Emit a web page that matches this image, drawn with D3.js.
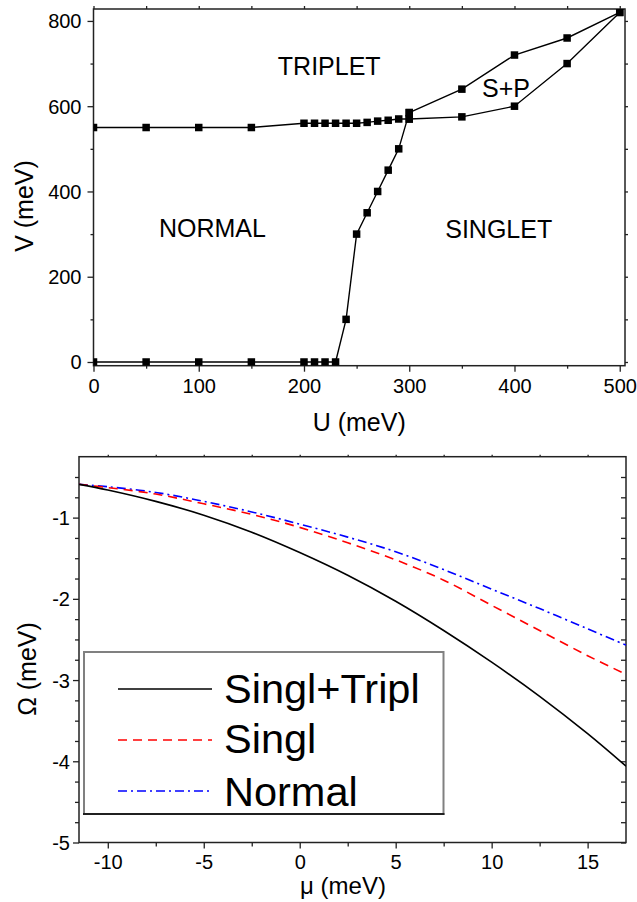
<!DOCTYPE html>
<html><head><meta charset="utf-8">
<script src="https://cdn.jsdelivr.net/npm/d3@7"></script>
<style>
body{margin:0;background:#fff}
svg{display:block}
text{font-family:"Liberation Sans",Arial,Helvetica,sans-serif;fill:#000}
</style>
</head><body>
<svg id="c" width="637" height="902"></svg>
<script>
// ---------- Top panel data (phase diagram) ----------
const normTripU = [0,50,100,150,200,210,220,230,240,250,260,270,280,290,300];
const normTripV = [550,550,550,550,560,560,560,560,560,560,562,565,567,570,570];
const normSingU = [0,50,100,150,200,210,220,230,240,250,260,270,280,290,300];
const normSingV = [0,0,0,0,0,0,0,0,100,300,350,400,450,500,585];
const spLowerU = [300,350,400,450,500];
const spLowerV = [570,575,600,700,820];
const spUpperU = [300,350,400,450,500];
const spUpperV = [585,640,720,760,820];
const topXTicks = [0,100,200,300,400,500];
const topYTicks = [0,200,400,600,800];
const phaseLabels = ["TRIPLET","NORMAL","SINGLET","S+P"];
const phaseLabelU = [224,113,385,392];
const phaseLabelV = [673,293,290,622];

// ---------- Bottom panel data (grand potential) ----------
const mu = [-11.5,-10,-7.5,-5,-2.5,0,2.5,5,7.5,10,12.5,15,17];
const omegaST = [-0.59,-0.66,-0.80,-0.97,-1.18,-1.43,-1.71,-2.03,-2.39,-2.78,-3.20,-3.66,-4.06];
const omegaS  = [-0.59,-0.63,-0.71,-0.83,-0.96,-1.12,-1.31,-1.52,-1.77,-2.08,-2.39,-2.70,-2.93];
const omegaN  = [-0.59,-0.62,-0.69,-0.80,-0.93,-1.08,-1.24,-1.42,-1.64,-1.88,-2.12,-2.37,-2.57];
const seriesNames = ["Singl+Tripl","Singl","Normal"];
const seriesColors = ["#000000","#ff0000","#0000ff"];
const seriesDash = ["none","9,6","9,4,2,4"];
const botXTicks = [-10,-5,0,5,10,15];
const botYTicks = [-5,-4,-3,-2,-1];

const svg = d3.select("#c");
const FONT_TICK = 20, FONT_TITLE = 25;
const fmt = d => String(d);   // plain hyphen-minus as in the original

// ================= TOP PANEL =================
(function(){
  const L=93.5,R=625,T=9,B=365.7;
  const x = d3.scaleLinear().domain([0,505]).range([L,R]);
  const y = d3.scaleLinear().domain([-8.7,828]).range([B,T]);
  const g = svg.append("g");
  g.append("defs").append("clipPath").attr("id","clipTop")
    .append("rect").attr("x",L).attr("y",T).attr("width",R-L).attr("height",B-T);

  const axB = d3.axisBottom(x).tickValues(topXTicks).tickSize(6).tickSizeOuter(0).tickFormat(fmt);
  const axBm = d3.axisBottom(x).tickValues([50,150,250,350,450]).tickSize(3).tickSizeOuter(0).tickFormat("");
  const axL = d3.axisLeft(y).tickValues(topYTicks).tickSize(6).tickSizeOuter(0).tickFormat(fmt);
  const axLm = d3.axisLeft(y).tickValues([100,300,500,700]).tickSize(3).tickSizeOuter(0).tickFormat("");
  const axT = d3.axisTop(x).tickValues(d3.range(0,501,50)).tickSize(3).tickSizeOuter(0).tickFormat("");
  const axR = d3.axisRight(y).tickValues(d3.range(0,801,100)).tickSize(3).tickSizeOuter(0).tickFormat("");

  const gb = g.append("g").attr("transform",`translate(0,${B})`).call(axB);
  g.append("g").attr("transform",`translate(0,${B})`).call(axBm);
  const gl = g.append("g").attr("transform",`translate(${L},0)`).call(axL);
  g.append("g").attr("transform",`translate(${L},0)`).call(axLm);
  g.append("g").attr("transform",`translate(0,${T})`).call(axT);
  g.append("g").attr("transform",`translate(${R},0)`).call(axR);
  g.selectAll(".domain").remove();
  g.selectAll(".tick line").attr("stroke","#222").attr("stroke-width",1.3);
  gb.selectAll("text").attr("font-size",FONT_TICK).attr("dy",0).attr("y",27);
  gl.selectAll("text").attr("font-size",FONT_TICK).attr("x",-12).attr("dy","0.35em");
  g.selectAll("g").attr("font-family",null);

  g.append("rect").attr("x",L).attr("y",T).attr("width",R-L).attr("height",B-T)
    .attr("fill","none").attr("stroke","#222").attr("stroke-width",1.5);

  const plot = g.append("g").attr("clip-path","url(#clipTop)");
  const line = d3.line().x(d=>x(d[0])).y(d=>y(d[1]));
  const sets = [[normTripU,normTripV],[normSingU,normSingV],[spLowerU,spLowerV],[spUpperU,spUpperV]];
  sets.forEach(([us,vs])=>{
    const pts = us.map((u,i)=>[u,vs[i]]);
    plot.append("path").datum(pts).attr("d",line).attr("fill","none").attr("stroke","#000").attr("stroke-width",1.4);
  });
  const ms = 7.5;
  sets.forEach(([us,vs])=>{
    const pts = us.map((u,i)=>[u,vs[i]]);
    plot.selectAll(null).data(pts).enter().append("rect")
      .attr("x",d=>x(d[0])-ms/2).attr("y",d=>y(d[1])-ms/2)
      .attr("width",ms).attr("height",ms).attr("fill","#000");
  });

  g.selectAll(null).data(phaseLabels).enter().append("text")
    .attr("x",(d,i)=>x(phaseLabelU[i])).attr("y",(d,i)=>y(phaseLabelV[i]))
    .attr("text-anchor","middle").attr("font-size",FONT_TITLE).text(d=>d);

  g.append("text").attr("x",(L+R)/2).attr("y",431).attr("text-anchor","middle")
    .attr("font-size",FONT_TITLE).text("U (meV)");
  g.append("text").attr("transform",`translate(33,206) rotate(-90)`).attr("text-anchor","middle")
    .attr("font-size",FONT_TITLE).text("V (meV)");
})();

// ================= BOTTOM PANEL =================
(function(){
  const L=79,R=626,T=456.7,B=842.5;
  const x = d3.scaleLinear().domain([-11.5,17]).range([L,R]);
  const y = d3.scaleLinear().domain([-5,-0.25]).range([B,T]);
  const g = svg.append("g");
  g.append("defs").append("clipPath").attr("id","clipBot")
    .append("rect").attr("x",L).attr("y",T).attr("width",R-L).attr("height",B-T);

  const minorX = [-7.5,-2.5,2.5,7.5,12.5];
  const minorY = d3.range(-4.75,-0.4,0.25).filter(v=>Math.abs(v-Math.round(v))>0.01);
  const axB = d3.axisBottom(x).tickValues(botXTicks).tickSize(6).tickSizeOuter(0).tickFormat(fmt);
  const axBm = d3.axisBottom(x).tickValues(minorX).tickSize(4).tickSizeOuter(0).tickFormat("");
  const axL = d3.axisLeft(y).tickValues(botYTicks).tickSize(6).tickSizeOuter(0).tickFormat(fmt);
  const axLm = d3.axisLeft(y).tickValues(minorY).tickSize(4).tickSizeOuter(0).tickFormat("");
  const axT = d3.axisTop(x).tickValues(botXTicks.concat(minorX)).tickSize(2).tickSizeOuter(0).tickFormat("");
  const axR = d3.axisLeft(y).tickValues(botYTicks.concat(minorY)).tickSize(5).tickSizeOuter(0).tickFormat("");

  const gb = g.append("g").attr("transform",`translate(0,${B})`).call(axB);
  g.append("g").attr("transform",`translate(0,${B})`).call(axBm);
  const gl = g.append("g").attr("transform",`translate(${L},0)`).call(axL);
  g.append("g").attr("transform",`translate(${L},0)`).call(axLm);
  g.append("g").attr("transform",`translate(0,${T})`).call(axT);
  g.append("g").attr("transform",`translate(${R},0)`).call(axR);
  g.selectAll(".domain").remove();
  g.selectAll(".tick line").attr("stroke","#222").attr("stroke-width",1.3);
  gb.selectAll("text").attr("font-size",FONT_TICK).attr("dy",0).attr("y",26);
  gl.selectAll("text").attr("font-size",FONT_TICK).attr("x",-9).attr("dy","0.35em");
  g.selectAll("g").attr("font-family",null);

  g.append("rect").attr("x",L).attr("y",T).attr("width",R-L).attr("height",B-T)
    .attr("fill","none").attr("stroke","#222").attr("stroke-width",1.5);

  const plot = g.append("g").attr("clip-path","url(#clipBot)");
  const line = d3.line().x(d=>x(d[0])).y(d=>y(d[1])).curve(d3.curveCatmullRom);
  const all = [omegaST,omegaS,omegaN];
  [2,1,0].forEach(k=>{
    const pts = mu.map((m,i)=>[m,all[k][i]]);
    plot.append("path").datum(pts).attr("d",line).attr("fill","none")
      .attr("stroke",seriesColors[k]).attr("stroke-width",1.6)
      .attr("stroke-dasharray",seriesDash[k]==="none"?null:seriesDash[k]);
  });

  // legend
  const lg = g.append("g");
  lg.append("rect").attr("x",84).attr("y",652).attr("width",359.5).attr("height",162)
    .attr("fill","#fff").attr("stroke","#808080").attr("stroke-width",2);
  lg.append("line").attr("x1",83).attr("x2",444.5).attr("y1",814).attr("y2",814)
    .attr("stroke","#000").attr("stroke-width",1.5);
  const rowY = [689,740,791];
  const baseY = [703,753,806];
  seriesNames.forEach((n,k)=>{
    lg.append("line").attr("x1",118).attr("x2",212).attr("y1",rowY[k]).attr("y2",rowY[k])
      .attr("stroke",seriesColors[k]).attr("stroke-width",1.6)
      .attr("stroke-dasharray",seriesDash[k]==="none"?null:seriesDash[k]);
    lg.append("text").attr("x",224).attr("y",baseY[k]).attr("font-size",41.5).text(n);
  });

  g.append("text").attr("x",343).attr("y",894).attr("text-anchor","middle")
    .attr("font-size",24).text("μ (meV)");
  g.append("text").attr("transform",`translate(36,669) rotate(-90)`).attr("text-anchor","middle")
    .attr("font-size",FONT_TITLE).text("Ω (meV)");
})();
</script>
</body></html>
